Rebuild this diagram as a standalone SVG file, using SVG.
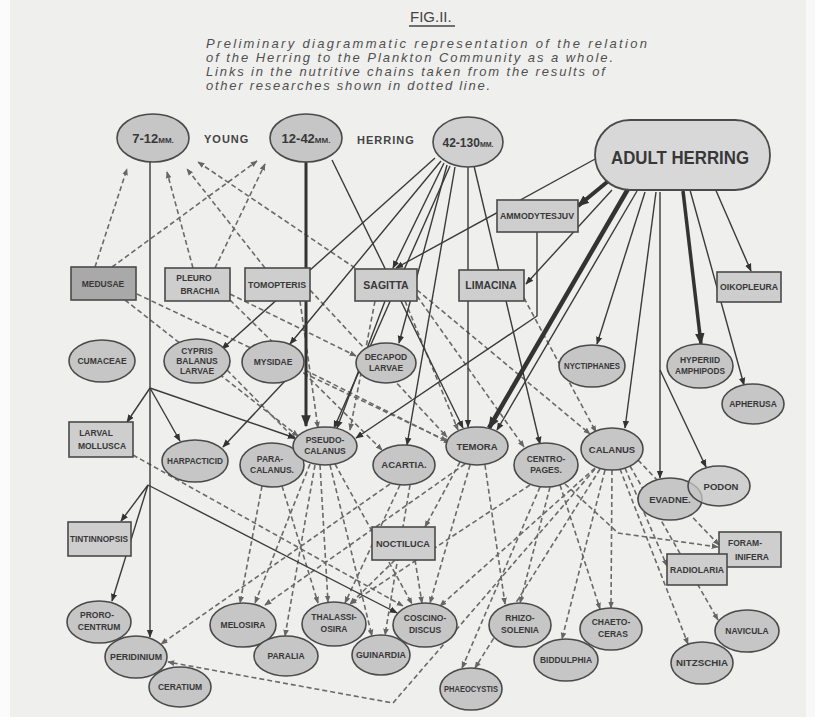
<svg xmlns="http://www.w3.org/2000/svg" width="815" height="717" viewBox="0 0 815 717">
<defs>
<marker id="a" viewBox="0 0 10 10" refX="9" refY="5" markerWidth="8" markerHeight="8" markerUnits="userSpaceOnUse" orient="auto"><path d="M0,1 L10,5 L0,9 z" fill="#333"/></marker>
<marker id="ab" viewBox="0 0 10 10" refX="9" refY="5" markerWidth="12" markerHeight="12" markerUnits="userSpaceOnUse" orient="auto"><path d="M0,1 L10,5 L0,9 z" fill="#333"/></marker>
<marker id="ad" viewBox="0 0 10 10" refX="9" refY="5" markerWidth="7" markerHeight="7" markerUnits="userSpaceOnUse" orient="auto"><path d="M0,1 L10,5 L0,9 z" fill="#666"/></marker>
</defs>
<style>
.s{fill:none;stroke:#3a3a3a;stroke-width:1.4;marker-end:url(#a)}
.t{fill:none;stroke:#333;marker-end:url(#ab)}
.d{fill:none;stroke:#6a6a6a;stroke-width:1.6;stroke-dasharray:5 3;marker-end:url(#ad)}
.e{fill:#c6c6c6;stroke:#4a4a4a;stroke-width:1.6}
.r{fill:#cecece;stroke:#4a4a4a;stroke-width:1.6}
.l{font-family:"Liberation Sans",Arial,sans-serif;font-weight:bold;font-size:8.5px;fill:#383838;text-anchor:middle}
.c{font-family:"Liberation Sans",Arial,sans-serif;font-style:italic;font-size:13px;fill:#505050}
.h{font-family:"Liberation Sans",Arial,sans-serif;font-weight:bold;font-size:11px;fill:#444;letter-spacing:1px}
</style>
<rect width="815" height="717" fill="#efefed"/>
<rect width="10" height="717" fill="#fbfbfb"/>
<rect x="806" width="9" height="717" fill="#f8f8f8"/>

<g id="title">
<text x="410" y="22" font-family="Liberation Sans,Arial,sans-serif" font-size="15" fill="#444">FIG.II.</text>
<line x1="409" y1="26" x2="455" y2="26" stroke="#444" stroke-width="1.3"/>
<text class="c" x="206" y="48" textLength="441" lengthAdjust="spacing">Preliminary  diagrammatic  representation  of  the  relation</text>
<text class="c" x="206" y="62" textLength="407" lengthAdjust="spacing">of the Herring to the Plankton Community as a whole.</text>
<text class="c" x="206" y="76" textLength="399" lengthAdjust="spacing">Links in the nutritive chains taken from the results of</text>
<text class="c" x="206" y="90" textLength="284" lengthAdjust="spacing">other researches shown in dotted line.</text>
<text class="h" x="204" y="143">YOUNG</text>
<text class="h" x="357" y="144">HERRING</text>
</g>

<g id="connectors">
<path class="d" d="M95,267 L127,169"/>
<path class="d" d="M112,267 L257,161"/>
<path class="d" d="M193,268 L167,172"/>
<path class="d" d="M215,268 L265,164"/>
<path class="d" d="M265,268 L187,169"/>
<path class="d" d="M355,268 L198,162"/>
<path class="d" d="M125,300 L298,436"/>
<path class="d" d="M137,294 L447,441"/>
<path class="d" d="M230,294 L356,356"/>
<path class="d" d="M230,300 L382,450"/>
<path class="d" d="M310,290 L447,437"/>
<path class="d" d="M300,301 L318,428"/>
<path class="d" d="M405,301 L458,430"/>
<path class="d" d="M417,290 L590,434"/>
<path class="d" d="M417,296 L524,447"/>
<path class="d" d="M375,301 L350,430"/>
<path class="d" d="M227,370 L296,440"/>
<path class="d" d="M305,370 L450,443"/>
<path class="d" d="M524,298 L596,432"/>
<path class="d" d="M133,455 L403,606"/>
<path class="d" d="M310,464 L255,603"/>
<path class="d" d="M320,465 L328,602"/>
<path class="d" d="M335,464 L412,604"/>
<path class="d" d="M315,465 L285,636"/>
<path class="d" d="M330,465 L372,636"/>
<path class="d" d="M262,486 L240,603"/>
<path class="d" d="M282,486 L318,603"/>
<path class="d" d="M390,484 L161,644"/>
<path class="d" d="M400,485 L345,603"/>
<path class="d" d="M410,485 L385,635"/>
<path class="d" d="M465,464 L265,605"/>
<path class="d" d="M470,465 L430,603"/>
<path class="d" d="M485,465 L505,604"/>
<path class="d" d="M460,462 L425,527"/>
<path class="d" d="M530,485 L350,604"/>
<path class="d" d="M540,487 L462,668"/>
<path class="d" d="M550,487 L520,603"/>
<path class="d" d="M560,485 L600,609"/>
<path class="d" d="M595,468 L440,606"/>
<path class="d" d="M600,469 L475,668"/>
<path class="d" d="M605,470 L562,639"/>
<path class="d" d="M612,470 L611,608"/>
<path class="d" d="M620,469 L688,644"/>
<path class="d" d="M630,466 L718,620"/>
<path class="d" d="M638,460 L719,545"/>
<path class="d" d="M625,468 L667,566"/>
<path class="d" d="M395,560 L350,604"/>
<path class="d" d="M415,560 L422,603"/>
<path class="d" d="M565,484 L618,533 L718,547"/>
<path class="d" d="M595,469 L393,703 L168,662"/>
<path class="s" d="M150,162 L150,637"/>
<path class="s" d="M150,388 L127,422"/>
<path class="s" d="M150,388 L180,441"/>
<path class="s" d="M150,388 L295,438"/>
<path class="s" d="M148,485 L121,521"/>
<path class="s" d="M148,485 L112,601"/>
<path class="s" d="M148,485 L397,613"/>
<path class="t" stroke-width="3" d="M306,162 L306,426"/>
<path class="s" d="M332,160 L463,428"/>
<path class="s" stroke-width="1.7" d="M435,158 L222,349"/>
<path class="s" stroke-width="1.7" d="M441,161 L290,344"/>
<path class="s" stroke-width="1.7" d="M444,163 L393,268"/>
<path class="s" stroke-width="1.7" d="M447,165 L399,343"/>
<path class="s" stroke-width="1.7" d="M450,166 L334,428"/>
<path class="s" d="M455,167 L407,445"/>
<path class="s" stroke-width="1.7" d="M468,167 L468,427"/>
<path class="s" d="M474,166 L540,444"/>
<path class="s" stroke-width="1.7" d="M385,301 L337,428"/>
<path class="t" stroke-width="4" d="M612,178 L578,206"/>
<path class="s" stroke-width="1.7" d="M537,232 L537,316 L356,438"/>
<path class="s" d="M597,158 L396,268"/>
<path class="s" stroke-width="1.7" d="M612,190 L526,284"/>
<path class="t" stroke-width="4.5" d="M628,189 L489,428"/>
<path class="s" stroke-width="2" d="M637,191 L497,430"/>
<path class="s" d="M645,192 L597,344"/>
<path class="s" stroke-width="2.2" d="M656,192 L625,428"/>
<path class="s" d="M660,192 L660,478"/>
<path class="t" stroke-width="3.5" d="M683,191 L701,344"/>
<path class="s" d="M690,190 L744,385"/>
<path class="s" d="M660,370 L706,467"/>
<path class="s" stroke-width="1.7" d="M714,186 L751,271"/>
<path class="s" d="M285,381 L223,447"/>
</g>

<g id="herring-7-12"><ellipse class="e" cx="153" cy="138" rx="36" ry="24"/><text class="l" x="153" y="143" style="font-size:13px">7-12<tspan style="font-size:8px">MM.</tspan></text></g>
<g id="herring-12-42"><ellipse class="e" cx="306" cy="138" rx="36" ry="24"/><text class="l" x="306" y="143" style="font-size:13px">12-42<tspan style="font-size:8px">MM.</tspan></text></g>
<g id="herring-42-130"><ellipse class="e" cx="468" cy="142" rx="35" ry="25" style="fill:#d0d0d0"/><text class="l" x="468" y="147" style="font-size:12px">42-130<tspan style="font-size:7px">MM.</tspan></text></g>
<g id="adult-herring"><rect x="595" y="120" width="175" height="70" rx="35" fill="#d8d8d8" stroke="#4a4a4a" stroke-width="1.8"/><text class="l" x="680" y="164" style="font-size:18px" textLength="138" lengthAdjust="spacingAndGlyphs">ADULT HERRING</text></g>
<g id="ammodytes"><rect class="r" x="497" y="200" width="81" height="32"/><text class="l" x="537" y="219" textLength="74" lengthAdjust="spacingAndGlyphs">AMMODYTESJUV</text></g>
<g id="medusae"><rect class="r" x="71" y="267" width="65" height="33" style="fill:#a9a9a9"/><text class="l" x="103" y="287">MEDUSAE</text></g>
<g id="pleurobrachia"><rect class="r" x="165" y="268" width="65" height="33"/><text class="l" x="194" y="281">PLEURO</text><text class="l" x="200" y="294">BRACHIA</text></g>
<g id="tomopteris"><rect class="r" x="245" y="268" width="65" height="33"/><text class="l" x="277" y="288" textLength="58" lengthAdjust="spacingAndGlyphs">TOMOPTERIS</text></g>
<g id="sagitta"><rect class="r" x="355" y="269" width="62" height="32"/><text class="l" x="386" y="289" style="font-size:10.5px">SAGITTA</text></g>
<g id="limacina"><rect class="r" x="459" y="270" width="65" height="31"/><text class="l" x="491" y="289" style="font-size:10.5px">LIMACINA</text></g>
<g id="oikopleura"><rect class="r" x="717" y="272" width="64" height="30"/><text class="l" x="749" y="290" textLength="58" lengthAdjust="spacingAndGlyphs">OIKOPLEURA</text></g>
<g id="cumaceae"><ellipse class="e" cx="102" cy="361" rx="33" ry="21"/><text class="l" x="102" y="364">CUMACEAE</text></g>
<g id="cypris"><ellipse class="e" cx="197" cy="361" rx="33" ry="22"/><text class="l" x="197" y="354">CYPRIS</text><text class="l" x="197" y="364">BALANUS</text><text class="l" x="197" y="374">LARVAE</text></g>
<g id="mysidae"><ellipse class="e" cx="273" cy="362" rx="31" ry="21"/><text class="l" x="273" y="365">MYSIDAE</text></g>
<g id="decapod"><ellipse class="e" cx="386" cy="363" rx="30" ry="20"/><text class="l" x="386" y="360">DECAPOD</text><text class="l" x="386" y="371">LARVAE</text></g>
<g id="nyctiphanes"><ellipse class="e" cx="592" cy="366" rx="33" ry="21"/><text class="l" x="592" y="369" textLength="56" lengthAdjust="spacingAndGlyphs">NYCTIPHANES</text></g>
<g id="hyperiid"><ellipse class="e" cx="700" cy="366" rx="33" ry="22"/><text class="l" x="700" y="363">HYPERIID</text><text class="l" x="700" y="374" textLength="50" lengthAdjust="spacingAndGlyphs">AMPHIPODS</text></g>
<g id="apherusa"><ellipse class="e" cx="753" cy="404" rx="31" ry="20"/><text class="l" x="753" y="407">APHERUSA</text></g>
<g id="larval-mollusca"><rect class="r" x="69" y="422" width="64" height="35"/><text class="l" x="96" y="436">LARVAL</text><text class="l" x="102" y="449">MOLLUSCA</text></g>
<g id="harpacticid"><ellipse class="e" cx="195" cy="461" rx="33" ry="21"/><text class="l" x="195" y="464" textLength="56" lengthAdjust="spacingAndGlyphs">HARPACTICID</text></g>
<g id="paracalanus"><ellipse class="e" cx="272" cy="465" rx="32" ry="22"/><text class="l" x="270" y="462">PARA-</text><text class="l" x="272" y="473">CALANUS.</text></g>
<g id="pseudocalanus"><ellipse class="e" cx="325" cy="446" rx="32" ry="19"/><text class="l" x="325" y="443">PSEUDO-</text><text class="l" x="325" y="454">CALANUS</text></g>
<g id="acartia"><ellipse class="e" cx="404" cy="465" rx="31" ry="20"/><text class="l" x="404" y="468" style="font-size:9.5px">ACARTIA.</text></g>
<g id="temora"><ellipse class="e" cx="477" cy="446" rx="31" ry="19"/><text class="l" x="477" y="450" style="font-size:9.5px">TEMORA</text></g>
<g id="centropages"><ellipse class="e" cx="546" cy="465" rx="32" ry="22"/><text class="l" x="546" y="462">CENTRO-</text><text class="l" x="546" y="473">PAGES.</text></g>
<g id="calanus"><ellipse class="e" cx="612" cy="449" rx="31" ry="21"/><text class="l" x="612" y="453" style="font-size:9.5px">CALANUS</text></g>
<g id="evadne"><ellipse class="e" cx="670" cy="499" rx="32" ry="21"/><text class="l" x="670" y="503" style="font-size:9.5px">EVADNE.</text></g>
<g id="podon"><ellipse class="e" cx="719" cy="486" rx="31" ry="20" fill-opacity="0.75"/><text class="l" x="721" y="490" style="font-size:9.5px">PODON</text></g>
<g id="tintinnopsis"><rect class="r" x="68" y="522" width="63" height="34"/><text class="l" x="99" y="542" textLength="58" lengthAdjust="spacingAndGlyphs">TINTINNOPSIS</text></g>
<g id="noctiluca"><rect class="r" x="372" y="527" width="63" height="33"/><text class="l" x="403" y="547" textLength="54" lengthAdjust="spacingAndGlyphs">NOCTILUCA</text></g>
<g id="foraminifera"><rect class="r" x="719" y="532" width="62" height="35"/><text class="l" x="745" y="546">FORAM-</text><text class="l" x="752" y="560">INIFERA</text></g>
<g id="radiolaria"><rect class="r" x="667" y="554" width="60" height="31"/><text class="l" x="697" y="573" textLength="54" lengthAdjust="spacingAndGlyphs">RADIOLARIA</text></g>
<g id="prorocentrum"><ellipse class="e" cx="99" cy="622" rx="32" ry="21"/><text class="l" x="97" y="618">PRORO-</text><text class="l" x="99" y="630">CENTRUM</text></g>
<g id="ceratium"><ellipse class="e" cx="180" cy="687" rx="31" ry="20"/><text class="l" x="180" y="690">CERATIUM</text></g>
<g id="peridinium"><ellipse class="e" cx="136" cy="657" rx="31" ry="21"/><text class="l" x="136" y="660" textLength="52" lengthAdjust="spacingAndGlyphs">PERIDINIUM</text></g>
<g id="melosira"><ellipse class="e" cx="243" cy="625" rx="33" ry="22"/><text class="l" x="243" y="628">MELOSIRA</text></g>
<g id="paralia"><ellipse class="e" cx="286" cy="656" rx="32" ry="20"/><text class="l" x="286" y="659">PARALIA</text></g>
<g id="thalassiosira"><ellipse class="e" cx="334" cy="624" rx="32" ry="22"/><text class="l" x="334" y="620">THALASSI-</text><text class="l" x="334" y="632">OSIRA</text></g>
<g id="guinardia"><ellipse class="e" cx="381" cy="655" rx="29" ry="20"/><text class="l" x="381" y="658" textLength="50" lengthAdjust="spacingAndGlyphs">GUINARDIA</text></g>
<g id="coscinodiscus"><ellipse class="e" cx="425" cy="625" rx="32" ry="22"/><text class="l" x="425" y="621">COSCINO-</text><text class="l" x="425" y="633">DISCUS</text></g>
<g id="rhizosolenia"><ellipse class="e" cx="520" cy="625" rx="31" ry="22"/><text class="l" x="520" y="621">RHIZO-</text><text class="l" x="520" y="633">SOLENIA</text></g>
<g id="phaeocystis"><ellipse class="e" cx="471" cy="689" rx="31" ry="21"/><text class="l" x="471" y="692" textLength="54" lengthAdjust="spacingAndGlyphs">PHAEOCYSTIS</text></g>
<g id="biddulphia"><ellipse class="e" cx="566" cy="660" rx="32" ry="21"/><text class="l" x="566" y="663" textLength="52" lengthAdjust="spacingAndGlyphs">BIDDULPHIA</text></g>
<g id="chaetoceras"><ellipse class="e" cx="611" cy="629" rx="31" ry="21"/><text class="l" x="611" y="625">CHAETO-</text><text class="l" x="613" y="637">CERAS</text></g>
<g id="nitzschia"><ellipse class="e" cx="702" cy="663" rx="31" ry="21"/><text class="l" x="702" y="666" textLength="52" lengthAdjust="spacingAndGlyphs">NITZSCHIA</text></g>
<g id="navicula"><ellipse class="e" cx="747" cy="631" rx="32" ry="21"/><text class="l" x="747" y="634">NAVICULA</text></g>
</svg>
